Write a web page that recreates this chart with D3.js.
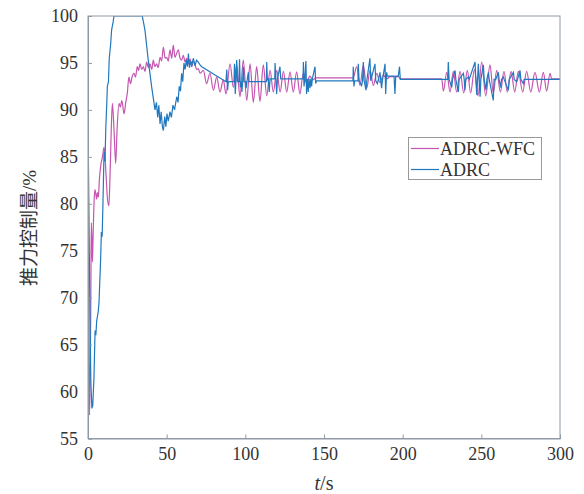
<!DOCTYPE html>
<html><head><meta charset="utf-8">
<script src="https://cdn.jsdelivr.net/npm/d3@7"></script>
<style>body{margin:0;background:#fff}text{font-family:"Liberation Serif","Times New Roman",serif}</style>
</head><body><svg id="c" width="584" height="494"></svg>
<script>
const xTicks=[0,50,100,150,200,250,300];
const yTicks=[55,60,65,70,75,80,85,90,95,100];
const seriesNames=["ADRC-WFC","ADRC"];
const xLabel="t", xUnit="/s";
const yLabel="推力控制量/%";

const wfcTime=[0,0.3,0.6,1,1.4,1.8,2.1,2.5,2.8,3.3,3.8,4.4,5,5.5,6,6.6,7.2,8.3,9.2,10.2,10.8,11.5,12.4,13.3,14,14.8,15.5,16.5,17.6,18.5,19.7,20.5,21.5,22.9,24,25,26,27,28,29.2,30.2,31.3,32.2,33,34.2,35.2,36.2,37.3,38.3,39.4,40.5,41.5,42.5,43.6,44.6,45.8,46.8,47.9,49,50,51,52.1,53.2,54.2,55.3,56.3,57.4,58.5,59.5,60.6,61.7,62.7,63.8,64.9,65.9,67,68,69,70.1,71.2,
73.3,75.4,77.5,79.7,81.8,83.9,86,87.7,90.3,92.4,94.5,96.6,98.7,100.9,103,105.1,107.2,109.3,111.4,113.6,115.7,117.8,120,122.1,124.2,126.3,128.4,130.5,132.6,134.7,136.8,139,141,143,145,
168.5,170.8,172.9,175,177.1,179.3,181.4,183.5,185.6,187.7,189.9,192,197.5,198.5,224.8,
225.9,228,230.1,232.2,234.3,236.5,238.8,241.1,243.2,245.6,247.9,250.2,252.8,255.5,257.6,259.8,262.1,264.4,266.5,268.9,271.2,273.5,276.3,278.8,281.4,284.1,286.9,289.4,291.5,293.7,294.7,300];
const wfcValue=[70,75,64,57.5,62,70,78,76,73.8,77,80,81.5,81,80.5,81.2,80.7,82.5,84.3,85,86,85,83,80.5,79.8,83,88,90.7,88,84.3,88,90.7,90.3,91,89.6,90.8,91.8,93.5,92.8,93.5,93.9,93.5,94.6,94.2,94.9,94.3,94.6,94.1,95.1,94.5,94.9,94.3,95.3,94.6,94.9,94.5,95.6,95.2,96.7,95.5,95.6,95.2,96.4,95.5,96.9,95.6,96,96.4,95.5,95.3,95.8,95.1,95.5,94.9,95.4,94.6,95.1,94.9,94.3,94.4,93.9,
94.2,92.8,93.9,92.1,93.5,91.9,93.2,91.7,94.9,92.4,94.8,91.4,95.3,91.0,94.9,90.8,94.6,90.9,94.8,91.5,94.2,91.9,94.2,91.9,94.1,91.9,94.05,91.9,94.05,91.7,93.9,92.8,93.6,93.2,93.4,
93.4,94.6,92.6,94.8,92.3,94.2,92.6,93.9,92.9,93.7,93.3,93.55,93.55,93.3,93.3,
92.0,94.0,91.9,94.1,91.9,94.1,91.8,94.2,91.8,94.3,91.5,95.1,91.5,94.8,91.8,94.2,91.9,94.1,91.9,94.1,91.9,94.1,91.9,94.1,91.9,94.0,91.9,94.0,92.0,93.9,93.3,93.3];

const adrcTime=[0,0.3,1,1.8,2.5,3,3.8,4.5,5,5.5,6.5,7,8,8.5,9,9.5,10.2,10.8,11.3,12,12.3,13,13.5,14.4,15,16,16.5,34.5,36.2,38.3,40.5,42.6,43.5,44.3,45,45.8,46.5,47.3,47.9,48.8,49.5,50.2,51,52.1,53,54,55,56.4,57.2,58,58.8,59.5,60.2,61,61.7,62.5,63.2,63.8,64.5,65.3,66,67,68,69,70.1,71.2,72.3,
87.7,88.2,88.7,89.2,92.8,93.1,93.6,94,94.5,95,96,96.3,96.8,97.5,97.8,98.3,98.7,99.2,100.2,100.5,101,101.9,102.4,113.4,113.6,114,114.6,115.2,115.7,118.7,118.9,119.4,119.9,120.4,122,122.5,136.7,136.9,137.3,137.8,138.5,138.9,139.4,140,140.5,141.1,141.6,142.1,142.6,144.3,144.7,145.2,
168.4,168.6,169,169.5,171.6,171.8,172.3,173.9,174.5,175,175.5,176.7,177.2,179.2,179.7,182.4,182.9,183.9,184.4,185.6,186.1,186.6,187.1,188.8,189.2,189.8,190.3,194.5,195.1,195.6,197.2,198,198.5,
228.7,229,229.5,231.2,231.7,233.3,233.8,235.4,235.9,238.6,239.1,239.6,240.1,241.8,242.3,246,246.5,247.1,247.6,248.1,248.6,249.2,249.7,251.3,251.8,253,253.5,254.5,255,257.6,258.1,258.7,259.2,260.8,261.3,262.3,262.8,264,264.5,267.2,267.7,270.4,270.9,272.5,273,274.6,275.1,276.7,277.2,300];
const adrcValue=[88,84,72,61,58.2,58.5,61.5,66.5,66,67.5,68.5,69.5,74,77,76.5,80,85.5,84.5,88,91,92.5,93,95.5,97,98.5,99.4,100,100,98.5,95.3,92.4,90,90.8,89.2,90.5,88.5,89.8,88.2,87.8,89.3,88.2,89.6,88.8,89.8,89.2,90.5,90,91.4,90.8,92.5,92,93.9,93,95,94.3,95.3,94.6,96,94.5,95.2,94.8,95.5,94.7,95.3,95.1,94.8,94.6,
93.0,94.3,92.1,93.0,93.0,94.9,91.7,93.0,95.3,93.0,93.0,95.4,92.4,93.0,91.9,93.0,94.6,93.0,93.0,92.3,93.0,94.0,93.0,93.0,95.1,93.2,93.3,91.9,93.3,93.3,95.0,93.3,91.7,93.3,94.6,93.3,93.3,95.1,92.5,93.3,95.2,91.7,93.3,91.9,93.3,92.3,93.3,92.5,93.3,94.6,92.8,93.1,
93.1,94.6,92.5,93.1,93.1,94.9,93.1,92.6,93.1,95.1,93.1,92.1,93.1,95.5,93.1,94.9,93.1,92.8,93.1,94.0,93.1,92.3,93.1,94.9,91.7,94.0,93.6,93.6,91.7,93.6,93.6,94.6,93.25,
93.25,95.1,93.25,92.4,93.25,94.2,93.25,91.9,93.25,93.9,93.25,92.1,93.25,93.5,93.25,95.1,93.25,91.6,93.25,94.9,93.25,91.4,93.25,94.8,93.25,92.1,93.25,94.0,93.25,91.0,93.25,93.2,93.25,94.0,93.25,92.4,93.25,93.5,93.25,92.1,93.25,94.0,93.25,93.0,93.25,94.2,93.25,92.8,93.25,93.25];

const colors=["#c455b0","#2078be"];
const axisColor="#8f9aa5";

const W=584,H=494, m={l:88,r:24,t:16,b:55.5};
const svg=d3.select("#c");
const x=d3.scaleLinear().domain([0,300]).range([m.l,W-m.r]);
const y=d3.scaleLinear().domain([55,100]).range([H-m.b,m.t]);

svg.append("defs").append("clipPath").attr("id","clip").append("rect")
  .attr("x",m.l).attr("y",m.t).attr("width",W-m.l-m.r).attr("height",H-m.t-m.b);

const wfc=wfcTime.map((t,i)=>[t,wfcValue[i]]);
const adrc=adrcTime.map((t,i)=>[t,adrcValue[i]]);

const g=svg.append("g").attr("clip-path","url(#clip)");
g.append("path").datum(wfc).attr("fill","none").attr("stroke",colors[0]).attr("stroke-width",1.2)
  .attr("d",d3.line().x(d=>x(d[0])).y(d=>y(d[1])).curve(d3.curveMonotoneX));
g.append("path").datum(adrc).attr("fill","none").attr("stroke",colors[1]).attr("stroke-width",1.2)
  .attr("d",d3.line().x(d=>x(d[0])).y(d=>y(d[1])));

// frame
svg.append("rect").attr("x",m.l).attr("y",m.t).attr("width",W-m.l-m.r).attr("height",H-m.t-m.b)
  .attr("fill","none").attr("stroke",axisColor).attr("stroke-width",1);

const xa=svg.append("g").attr("transform",`translate(0,${H-m.b})`)
  .call(d3.axisBottom(x).tickValues(xTicks).tickSize(-4).tickPadding(9).tickFormat(d3.format("d")));
const ya=svg.append("g").attr("transform",`translate(${m.l},0)`)
  .call(d3.axisLeft(y).tickValues(yTicks).tickSize(-4).tickPadding(10).tickFormat(d3.format("d")));
[xa,ya].forEach(a=>{
  a.select(".domain").attr("stroke",axisColor);
  a.selectAll(".tick line").attr("stroke",axisColor);
  a.selectAll(".tick text").attr("fill","#333").style("font-size","18px").style("font-family","'Liberation Serif',serif");
});

svg.append("text").attr("x",(m.l+W-m.r)/2).attr("y",490).attr("text-anchor","middle")
  .style("font-size","20px").style("font-family","'Liberation Serif',serif").attr("fill","#333")
  .call(t=>{t.append("tspan").style("font-style","italic").text(xLabel);t.append("tspan").text(xUnit);});

svg.append("text").attr("transform","translate(36,228) rotate(-90)").attr("text-anchor","middle")
  .style("font-size","19px").style("font-family","'Liberation Serif','Noto Sans CJK SC',serif").attr("fill","#333").text(yLabel);

// legend
const lg=svg.append("g");
lg.append("rect").attr("x",408.5).attr("y",137.5).attr("width",133).attr("height",42)
  .attr("fill","#fff").attr("stroke","#999").attr("stroke-width",1);
seriesNames.forEach((n,i)=>{
  const yy=148.5+i*21;
  lg.append("line").attr("x1",411).attr("x2",439).attr("y1",yy).attr("y2",yy).attr("stroke",colors[i]).attr("stroke-width",1.2);
  lg.append("text").attr("x",440).attr("y",yy+6).style("font-size","18px").attr("fill","#333").text(n);
});
</script></body></html>
